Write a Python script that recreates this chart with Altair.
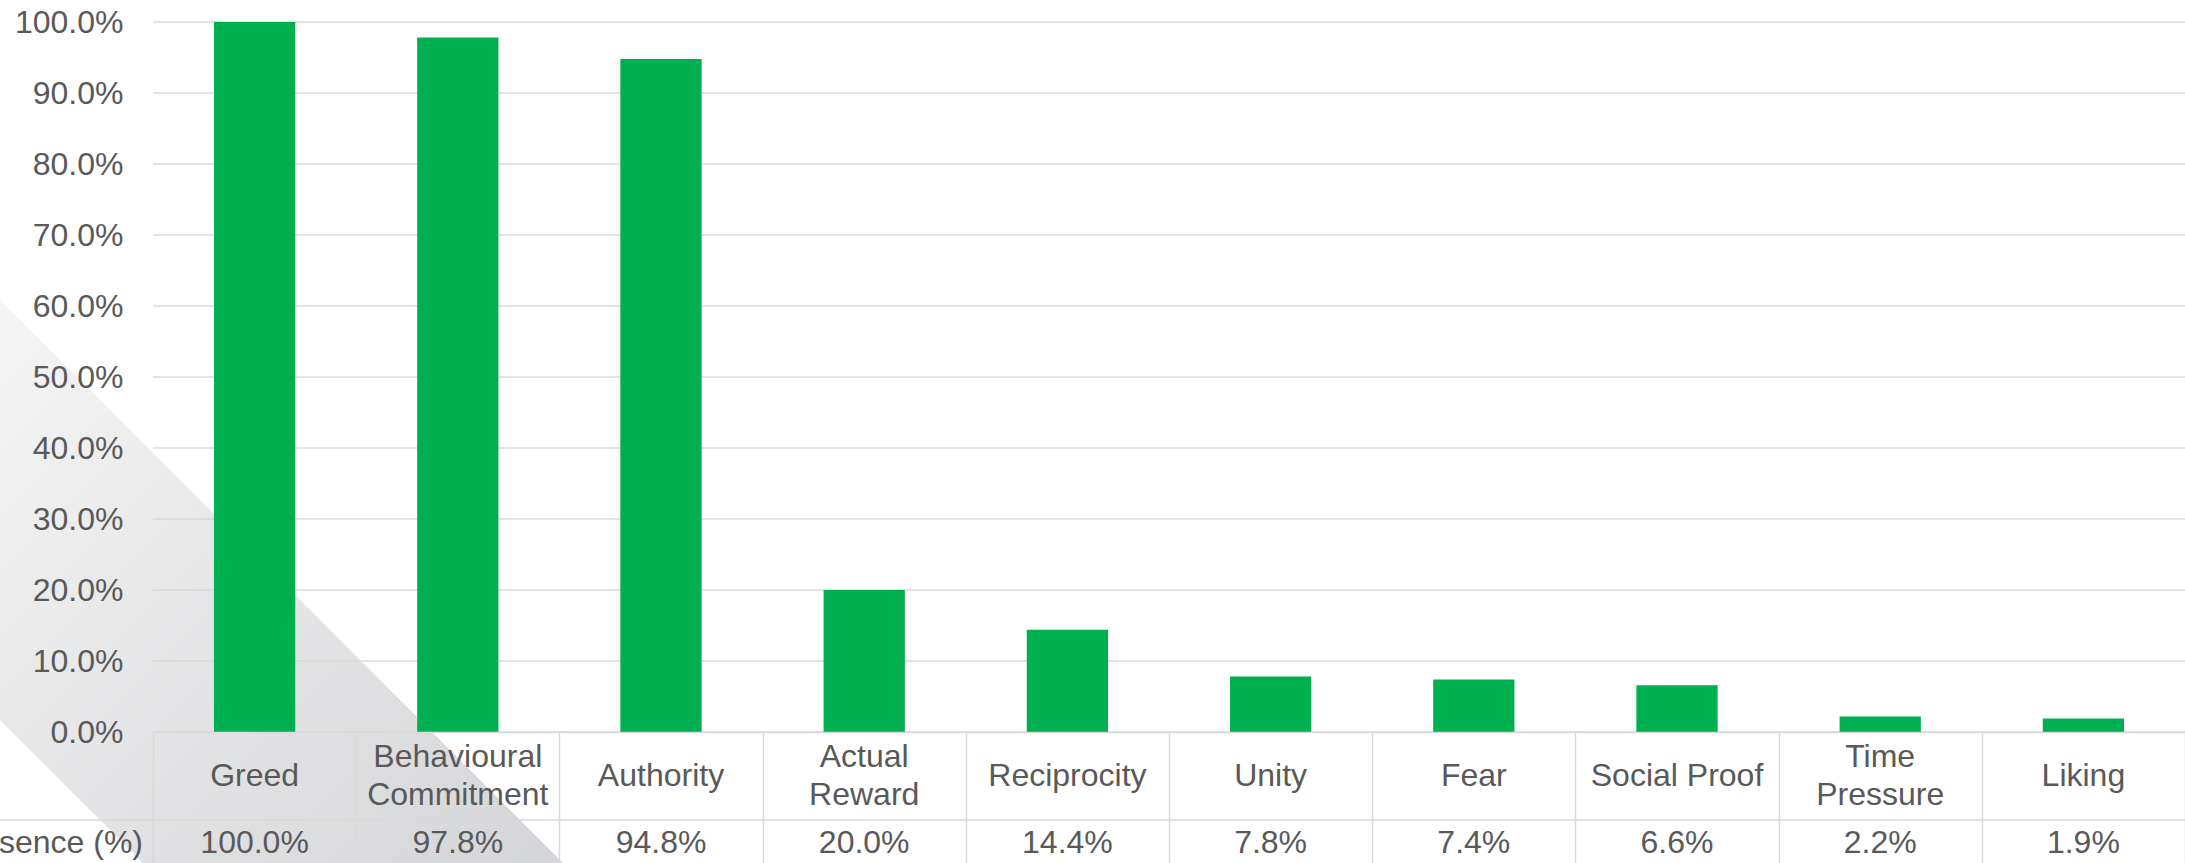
import altair as alt
import pandas as pd

# ---- data -------------------------------------------------------------
categories = ["Greed", "Behavioural Commitment", "Authority", "Actual Reward",
              "Reciprocity", "Unity", "Fear", "Social Proof", "Time Pressure", "Liking"]
cell_labels = ["Greed", "Behavioural\nCommitment", "Authority", "Actual\nReward",
               "Reciprocity", "Unity", "Fear", "Social Proof", "Time\nPressure", "Liking"]
presence = [100.0, 97.8, 94.8, 20.0, 14.4, 7.8, 7.4, 6.6, 2.2, 1.9]
y_ticks = [0, 10, 20, 30, 40, 50, 60, 70, 80, 90, 100]
row_title = "Presence (%)"

# decorative diagonal band behind the chart (page pixel coordinates)
band_x = [0, 143, 563]
band_top = [300, 443, 863]
band_bottom = [720, 863, 863]

# ---- layout / style ---------------------------------------------------
LEFT, TOP = 153, 22
PLOT_W, PLOT_H = 2032, 710
PAGE_H = 863
ROW1_H = 88
LINE_H = 38
FONT = "Liberation Sans"
FS = 32
TXT = "#595959"
GRID = "#d9d9d9"
GREEN = "#00B050"

df = pd.DataFrame({"category": categories, "label": cell_labels, "presence": presence})
df["value_text"] = [f"{v:.1f}%" for v in presence]
ticks_df = pd.DataFrame({"tick": y_ticks})
title_df = pd.DataFrame({"t": [row_title]})
band_df = pd.DataFrame({"bx": band_x, "top": band_top, "bottom": band_bottom})

x_scale = alt.Scale(paddingInner=0, paddingOuter=0)
x_axis = alt.Axis(labels=False, ticks=True, tickBand="extent", tickSize=PAGE_H - TOP - PLOT_H,
                  tickColor=GRID, tickWidth=1.5, domain=True, domainColor=GRID,
                  domainWidth=1.5, title=None, grid=False, zindex=1)
y_scale = alt.Scale(domain=[0, 100], nice=False)
y_axis = alt.Axis(values=y_ticks, labelExpr="format(datum.value, '.1f') + '%'",
                  grid=False, ticks=False, domain=False, labelFontSize=FS,
                  labelColor=TXT, labelFont=FONT, labelPadding=30, title=None, zindex=1)


def xenc():
    return alt.X("category:N", sort=categories, scale=x_scale, axis=x_axis)


band = alt.Chart(band_df).mark_area(
    orient="vertical",
    color=alt.Gradient(
        gradient="linear",
        stops=[alt.GradientStop(color="#f5f5f5", offset=0),
               alt.GradientStop(color="#d4d5d8", offset=1)],
        x1=0, y1=0, x2=1, y2=1,
    ),
).encode(
    x=alt.X("bx:Q", scale=alt.Scale(domain=[LEFT, LEFT + PLOT_W], nice=False, zero=False), axis=None),
    y=alt.Y("top:Q", scale=alt.Scale(domain=[TOP, TOP + PLOT_H], reverse=True, nice=False, zero=False),
            axis=None),
    y2="bottom:Q",
)

grid = alt.Chart(ticks_df).mark_rule(color=GRID, strokeWidth=1.5).encode(
    y=alt.Y("tick:Q", scale=y_scale, axis=y_axis),
    x=alt.value(0),
    x2=alt.value(PLOT_W),
)

bars = alt.Chart(df).mark_bar(color=GREEN, width=alt.RelativeBandSize(0.4)).encode(
    x=xenc(),
    y=alt.Y("presence:Q", scale=y_scale, axis=y_axis),
)

text_style = dict(font=FONT, fontSize=FS, color=TXT, align="center", baseline="middle")

# category cells: one-line names centred in the row, two-line names shifted up half a line
cat_one = alt.Chart(df).transform_filter(
    "indexof(datum.label, '\\n') < 0"
).mark_text(**text_style).encode(
    x=xenc(), y=alt.value(PLOT_H + ROW1_H / 2), text="label:N"
)
cat_two = alt.Chart(df).transform_filter(
    "indexof(datum.label, '\\n') >= 0"
).mark_text(lineBreak="\n", lineHeight=LINE_H, **text_style).encode(
    x=xenc(), y=alt.value(PLOT_H + ROW1_H / 2 - LINE_H / 2), text="label:N"
)

VAL_Y = PLOT_H + 111

val_text = alt.Chart(df).mark_text(**text_style).encode(
    x=xenc(), y=alt.value(VAL_Y), text="value_text:N"
)

header = alt.Chart(title_df).mark_text(
    font=FONT, fontSize=FS, color=TXT, align="right", baseline="middle",
).encode(x=alt.value(-10), y=alt.value(VAL_Y), text="t:N")

row_line = alt.Chart(title_df).mark_rule(color=GRID, strokeWidth=1.5).encode(
    x=alt.value(-LEFT), x2=alt.value(PLOT_W), y=alt.value(PLOT_H + ROW1_H),
)

main = alt.layer(grid, bars, cat_one, cat_two, val_text, header, row_line)

chart = (
    alt.layer(band, main)
    .resolve_scale(x="independent", y="independent")
    .properties(
        width=PLOT_W,
        height=PLOT_H,
        autosize=alt.AutoSizeParams(type="none"),
        padding={"left": LEFT, "top": TOP, "right": 0, "bottom": PAGE_H - TOP - PLOT_H},
        background="white",
    )
    .configure_view(stroke=None)
)

chart.save("out.html", embed_options={"renderer": "svg", "actions": False})
